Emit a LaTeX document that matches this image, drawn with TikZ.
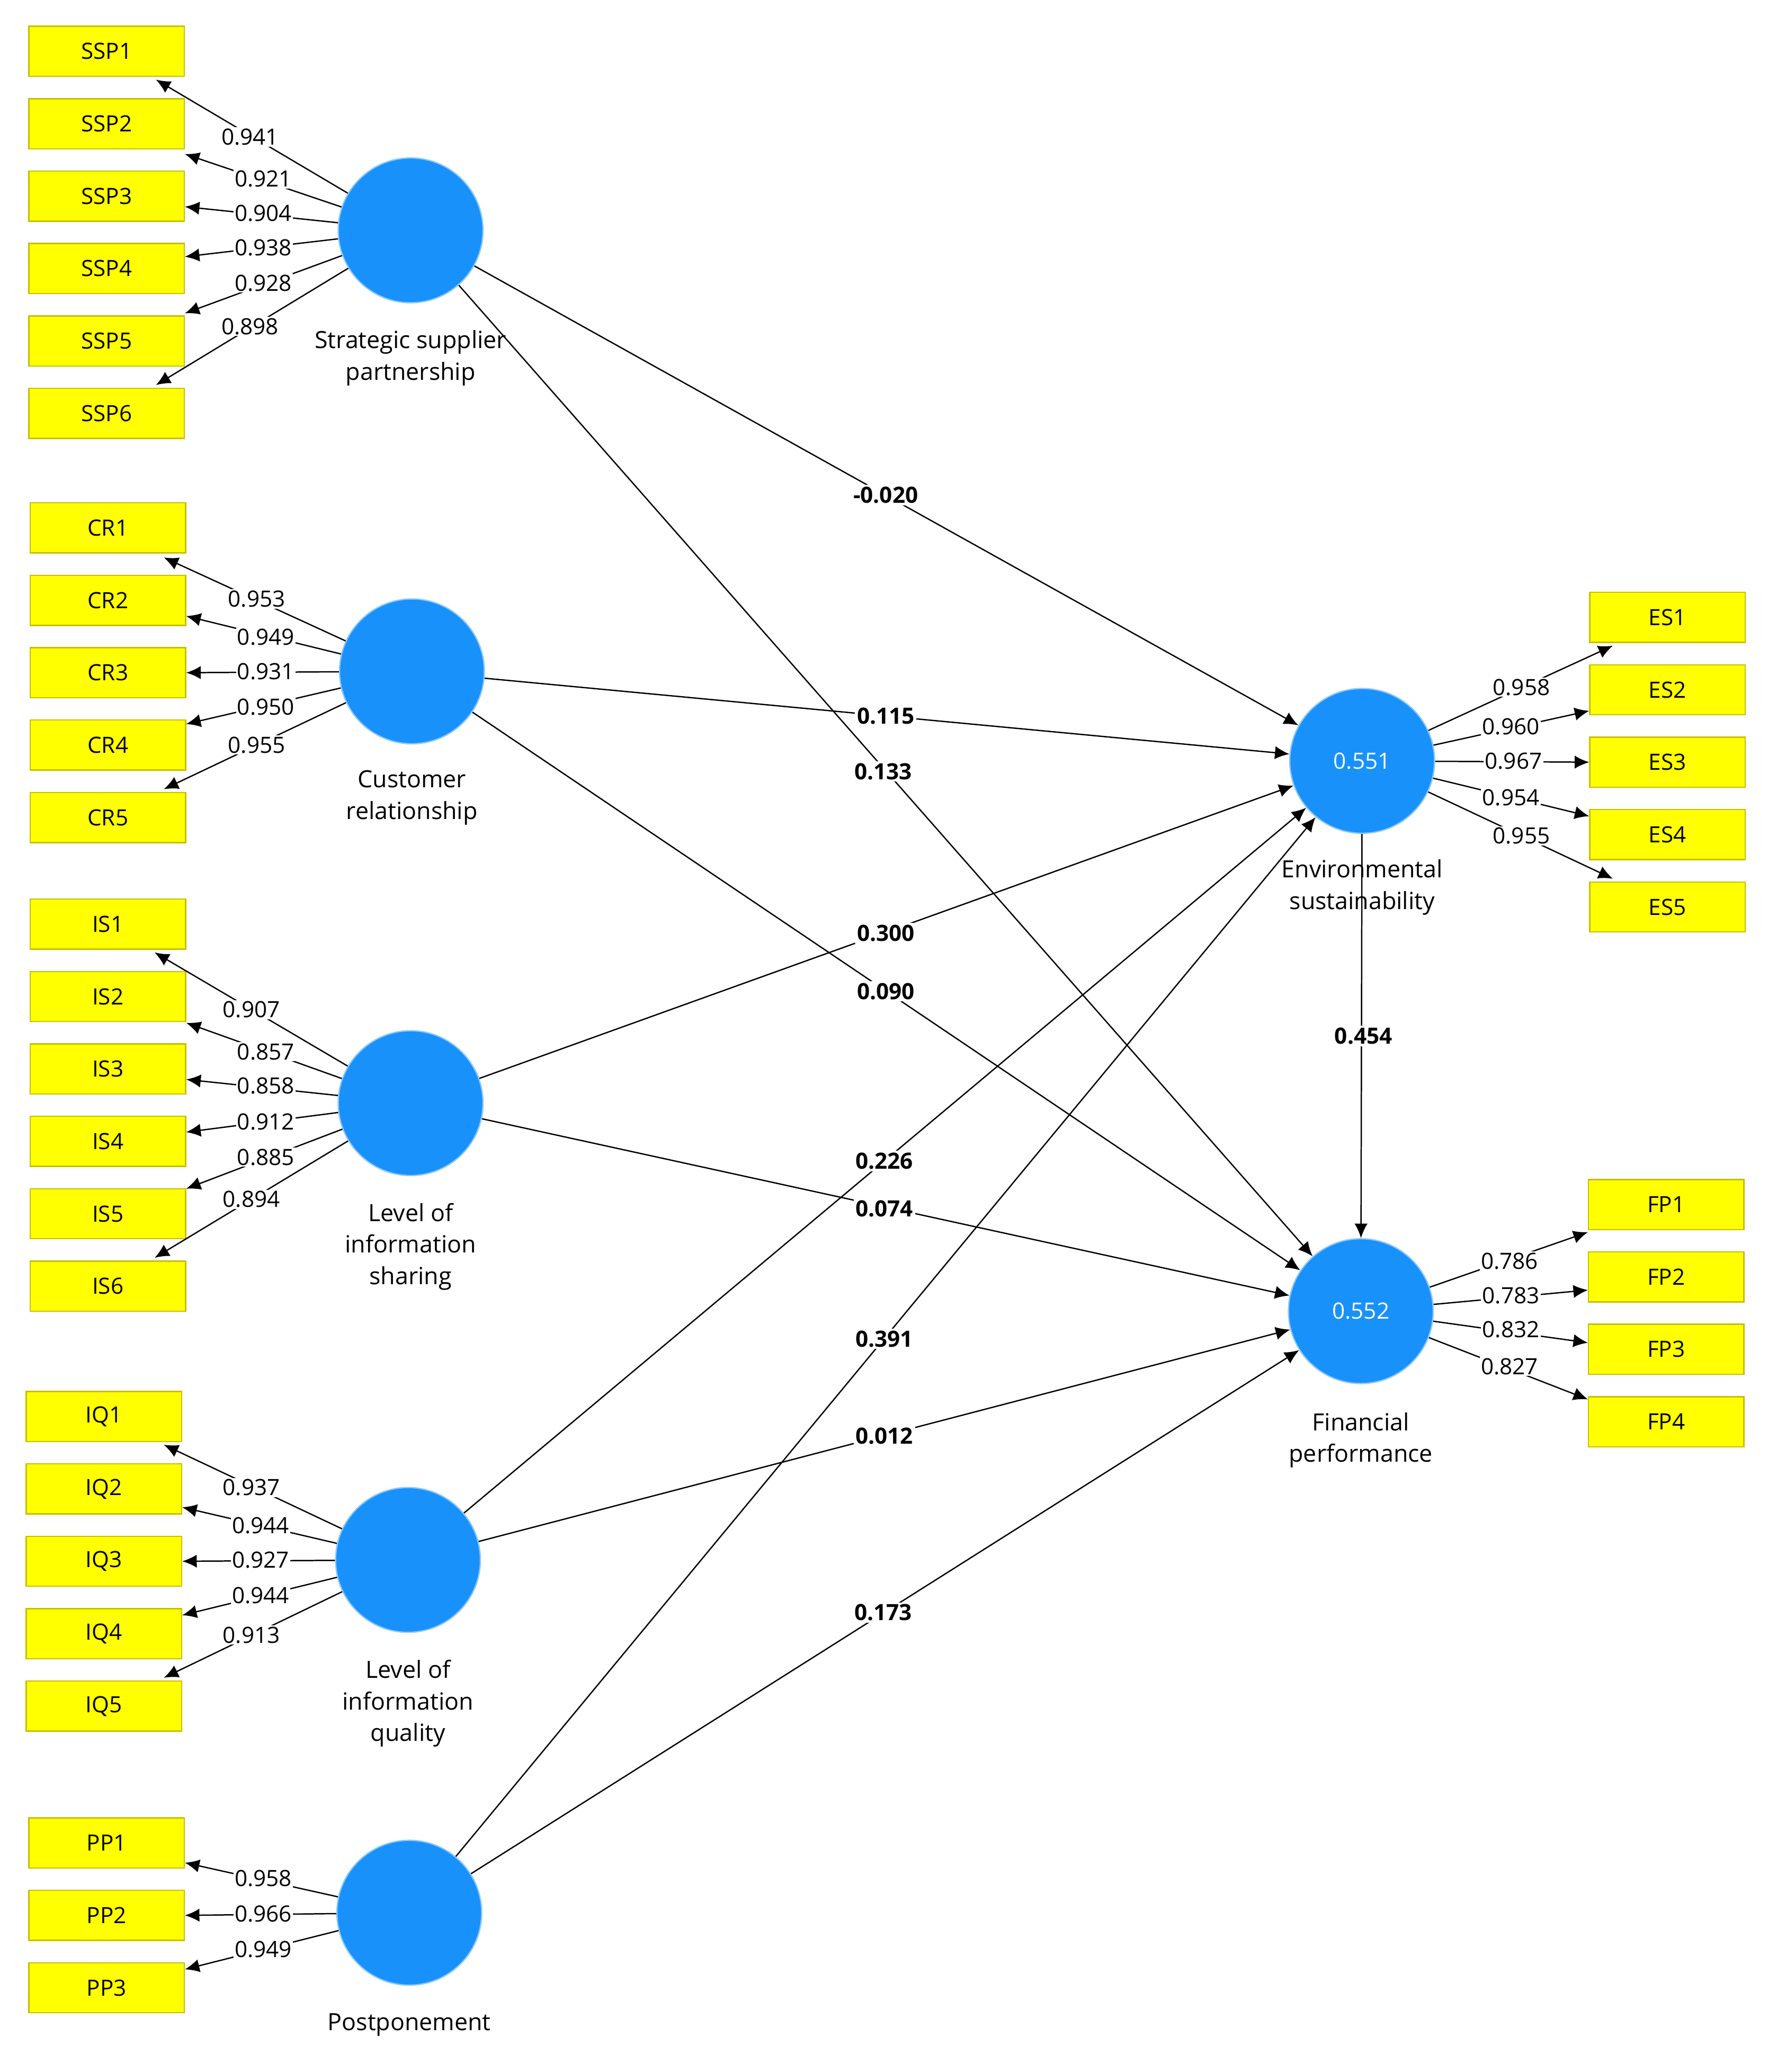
\documentclass[tikz,border=0pt]{standalone}
\usepackage{fontspec}
\setmainfont{Open Sans}
\usetikzlibrary{calc,arrows.meta}
\definecolor{lv}{RGB}{25,145,250}
\definecolor{ybox}{RGB}{255,255,0}
\definecolor{ybd}{RGB}{200,190,0}
\begin{document}
\begin{tikzpicture}[x=1pt,y=-1pt,
 box/.style={draw=ybd,fill=ybox,line width=1pt,minimum width=118pt,minimum height=38pt,inner sep=0pt,font=\fontsize{17}{20}\selectfont},
 lat/.style={circle,draw=lv!50,fill=lv,line width=1pt,minimum size=110pt,inner sep=0pt,text=white,font=\fontsize{17}{20}\selectfont},
 ld/.style={-{Latex[length=11pt,width=10pt]},line width=1pt},
 pth/.style={-{Latex[length=11pt,width=10pt]},line width=1pt},
 lv1/.style={fill=white,inner sep=1pt,font=\fontsize{17}{20}\selectfont},
 pl/.style={fill=white,inner sep=1.5pt,font=\bfseries\fontsize{17}{20}\selectfont},
 nm/.style={align=center,font=\fontsize{18}{24}\selectfont}]
\useasboundingbox (0,0) rectangle (1350,1574);
% latent variables
\node[lat] (ssp) at (312,175) {};
\node[lat] (cr) at (313,510) {};
\node[lat] (is) at (312,838) {};
\node[lat] (iq) at (310,1185) {};
\node[lat] (pp) at (311,1453) {};
\node[lat] (es) at (1035,578) {0.551};
\node[lat] (fp) at (1034,996) {0.552};
% names
\node[nm] (nssp) at (312,272) {Strategic supplier\\partnership};
\node[nm] (ncr) at (313,606) {Customer\\relationship};
\node[nm] (nis) at (312,947) {Level of\\information\\sharing};
\node[nm] (niq) at (310,1294) {Level of\\information\\quality};
\node[nm] (npp) at (311,1538) {Postponement};
% boxes
\foreach \i/\y in {1/39,2/94,3/149,4/204,5/259,6/314}{\node[box] (ssp\i) at (81,\y) {SSP\i};}
\foreach \i/\y in {1/401,2/456,3/511,4/566,5/621}{\node[box] (cr\i) at (82,\y) {CR\i};}
\foreach \i/\y in {1/702,2/757,3/812,4/867,5/922,6/977}{\node[box] (is\i) at (82,\y) {IS\i};}
\foreach \i/\y in {1/1076,2/1131,3/1186,4/1241,5/1296}{\node[box] (iq\i) at (79,\y) {IQ\i};}
\foreach \i/\y in {1/1400,2/1455,3/1510}{\node[box] (pp\i) at (81,\y) {PP\i};}
\foreach \i/\y in {1/469,2/524,3/579,4/634,5/689}{\node[box] (es\i) at (1267,\y) {ES\i};}
\foreach \i/\y in {1/915,2/970,3/1025,4/1080}{\node[box] (fp\i) at (1266,\y) {FP\i};}
% structural paths
\draw[pth] (ssp) -- (es);
\draw[pth] (ssp) -- (fp);
\draw[pth] (cr) -- (es);
\draw[pth] (cr) -- (fp);
\draw[pth] (is) -- (es);
\draw[pth] (is) -- (fp);
\draw[pth] (iq) -- (es);
\draw[pth] (iq) -- (fp);
\draw[pth] (pp) -- (es);
\draw[pth] (pp) -- (fp);
\draw[pth] (es) -- (fp);
\foreach \v/\x/\y in {-0.020/673/376,0.115/673/544,0.133/671/586,0.300/673/709,0.090/673/753,0.226/672/882,0.074/672/918,0.391/672/1017,0.012/672/1091,0.173/671/1225,0.454/1036/787}{\node[pl] at (\x,\y) {\v};}
\node[nm] (nes) at (1035,674) {Environmental\\sustainability};
\node[nm] (nfp) at (1034,1094) {Financial\\performance};
% loadings SSP
\draw[ld] (ssp) -- ($(ssp1.south east)+(-22,2)$);
\draw[ld] (ssp) -- ($(ssp2.east)+(0,23)$);
\draw[ld] (ssp) -- ($(ssp3.east)+(0,8)$);
\draw[ld] (ssp) -- ($(ssp4.east)+(0,-9)$);
\draw[ld] (ssp) -- ($(ssp5.east)+(0,-21)$);
\draw[ld] (ssp) -- ($(ssp6.north east)+(-22,-2)$);
\foreach \v/\x/\y in {0.941/190/104,0.921/200/136,0.904/200/162,0.938/200/188,0.928/200/215,0.898/190/248}{\node[lv1] at (\x,\y) {\v};}
% CR
\draw[ld] (cr) -- ($(cr1.south east)+(-17,3)$);
\draw[ld] (cr) -- ($(cr2.east)+(0,12)$);
\draw[ld] (cr) -- (cr3.east);
\draw[ld] (cr) -- ($(cr4.east)+(0,-16)$);
\draw[ld] (cr) -- ($(cr5.north east)+(-17,-2)$);
\foreach \v/\x/\y in {0.953/195/455,0.949/202/484,0.931/202/510,0.950/202/537,0.955/195/566}{\node[lv1] at (\x,\y) {\v};}
% IS
\draw[ld] (is) -- ($(is1.south east)+(-24,2)$);
\draw[ld] (is) -- ($(is2.east)+(0,20)$);
\draw[ld] (is) -- ($(is3.east)+(0,8)$);
\draw[ld] (is) -- ($(is4.east)+(0,-7)$);
\draw[ld] (is) -- ($(is5.east)+(0,-19)$);
\draw[ld] (is) -- ($(is6.north east)+(-24,-2)$);
\foreach \v/\x/\y in {0.907/191/767,0.857/202/799,0.858/202/825,0.912/202/852,0.885/202/879,0.894/191/911}{\node[lv1] at (\x,\y) {\v};}
% IQ
\draw[ld] (iq) -- ($(iq1.south east)+(-14,2)$);
\draw[ld] (iq) -- ($(iq2.east)+(0,14)$);
\draw[ld] (iq) -- (iq3.east);
\draw[ld] (iq) -- ($(iq4.east)+(0,-14)$);
\draw[ld] (iq) -- ($(iq5.north east)+(-14,-2)$);
\foreach \v/\x/\y in {0.937/191/1130,0.944/198/1159,0.927/198/1185,0.944/198/1212,0.913/191/1242}{\node[lv1] at (\x,\y) {\v};}
% PP
\draw[ld] (pp) -- ($(pp1.east)+(0,15)$);
\draw[ld] (pp) -- (pp2.east);
\draw[ld] (pp) -- ($(pp3.east)+(0,-14)$);
\foreach \v/\x/\y in {0.958/200/1427,0.966/200/1454,0.949/200/1481}{\node[lv1] at (\x,\y) {\v};}
% ES
\draw[ld] (es) -- ($(es1.south west)+(18,2)$);
\draw[ld] (es) -- ($(es2.west)+(0,16)$);
\draw[ld] (es) -- (es3.west);
\draw[ld] (es) -- ($(es4.west)+(0,-14)$);
\draw[ld] (es) -- ($(es5.north west)+(18,-2)$);
\foreach \v/\x/\y in {0.958/1156/522,0.960/1148/552,0.967/1150/578,0.954/1148/606,0.955/1156/635}{\node[lv1] at (\x,\y) {\v};}
% FP
\draw[ld] (fp) -- ($(fp1.west)+(0,21)$);
\draw[ld] (fp) -- ($(fp2.west)+(0,10)$);
\draw[ld] (fp) -- ($(fp3.west)+(0,-5)$);
\draw[ld] (fp) -- ($(fp4.west)+(0,-17)$);
\foreach \v/\x/\y in {0.786/1147/958,0.783/1148/984,0.832/1148/1010,0.827/1147/1038}{\node[lv1] at (\x,\y) {\v};}
\end{tikzpicture}
\end{document}
